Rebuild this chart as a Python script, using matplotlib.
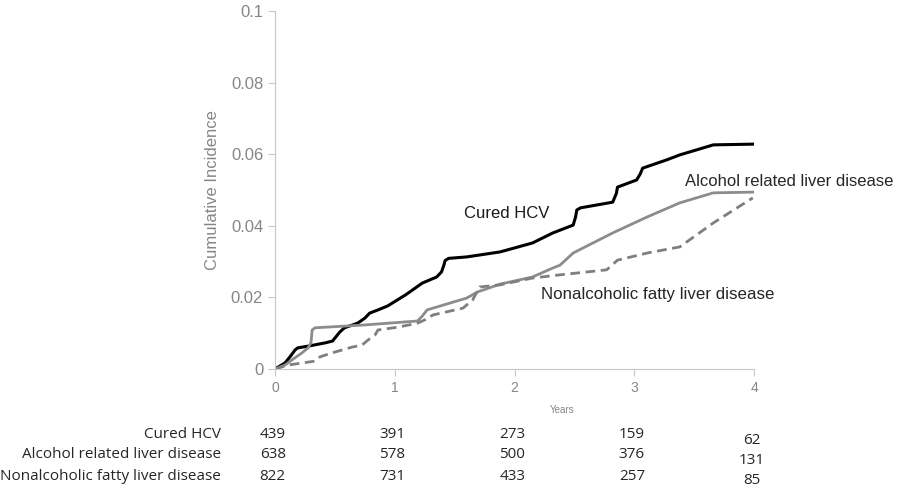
import matplotlib.pyplot as plt
from matplotlib.transforms import blended_transform_factory

plt.rcParams['font.family'] = ['Liberation Sans', 'DejaVu Sans']

# === Data ===
hcv_x = [0, 0.084, 0.125, 0.167, 0.19, 0.28, 0.42, 0.48, 0.54, 0.58, 0.69, 0.75, 0.79,
         0.86, 0.94, 1.09, 1.23, 1.35, 1.39, 1.41, 1.42, 1.45, 1.60, 1.88, 2.15, 2.32,
         2.49, 2.51, 2.52, 2.55, 2.82, 2.85, 2.86, 3.02, 3.05, 3.07, 3.27, 3.38, 3.66, 3.99]
hcv_y = [0, 0.0017, 0.0034, 0.0053, 0.0059, 0.0064, 0.0073, 0.0078, 0.0103, 0.0115,
         0.0128, 0.0142, 0.0156, 0.0165, 0.0176, 0.0207, 0.024, 0.0257, 0.0271, 0.029,
         0.0303, 0.0309, 0.0313, 0.0327, 0.0352, 0.038, 0.0402, 0.0425, 0.0444, 0.045,
         0.0466, 0.049, 0.0508, 0.0528, 0.0545, 0.0561, 0.0584, 0.0598, 0.0626, 0.0628]

ald_x = [0, 0.084, 0.14, 0.225, 0.276, 0.30, 0.31, 0.334, 0.75, 1.19, 1.23, 1.27, 1.60,
         1.69, 1.88, 2.15, 2.32, 2.38, 2.49, 2.82, 3.11, 3.38, 3.66, 3.99]
ald_y = [0, 0.0011, 0.0025, 0.0045, 0.0059, 0.0073, 0.0109, 0.0115, 0.0123, 0.0134,
         0.0148, 0.0165, 0.0198, 0.0215, 0.0237, 0.0257, 0.0282, 0.029, 0.0324, 0.038,
         0.0425, 0.0464, 0.0492, 0.0494]

nafld_x = [0, 0.11, 0.334, 0.376, 0.476, 0.643, 0.727, 0.777, 0.835, 0.86, 1.03, 1.19,
           1.25, 1.32, 1.57, 1.65, 1.71, 1.88, 2.15, 2.38, 2.77, 2.86, 3.11, 3.38, 3.66, 3.99]
nafld_y = [0, 0.0011, 0.0022, 0.0034, 0.0045, 0.0061, 0.0067, 0.0081, 0.0095, 0.0109,
           0.0117, 0.0128, 0.0137, 0.0151, 0.017, 0.0193, 0.0229, 0.0235, 0.0254, 0.0263,
           0.0277, 0.0304, 0.0324, 0.0341, 0.0408, 0.0478]

risk_years = [0, 1, 2, 3, 4]
risk_labels = ["Cured HCV", "Alcohol related liver disease", "Nonalcoholic fatty liver disease"]
risk_hcv = [439, 391, 273, 159, 62]
risk_ald = [638, 578, 500, 376, 131]
risk_nafld = [822, 731, 433, 257, 85]

# === Figure ===
fig = plt.figure(figsize=(9, 4.88), dpi=100)
ax = fig.add_axes([0.3056, 0.2439, 0.5322, 0.7336])

ax.plot(hcv_x, hcv_y, color="black", lw=2.2, solid_joinstyle="round")
ax.plot(ald_x, ald_y, color="#8c8c8c", lw=2.0, solid_joinstyle="round")
ax.plot(nafld_x, nafld_y, color="#7f7f7f", lw=2.0, ls=(0, (3.5, 2)))

ax.set_xlim(0, 4)
ax.set_ylim(0, 0.1)
ax.set_yticks([0, 0.02, 0.04, 0.06, 0.08, 0.1])
ax.set_yticklabels(["0", "0.02", "0.04", "0.06", "0.08", "0.1"])
ax.set_xticks(risk_years)

grey = "#868686"
for s in ["top", "right"]:
    ax.spines[s].set_visible(False)
for s in ["left", "bottom"]:
    ax.spines[s].set_color("#c8c8c8")
ax.tick_params(axis="y", colors="#c8c8c8", labelcolor=grey, labelsize=12, length=5)
ax.tick_params(axis="x", colors="#c8c8c8", labelcolor=grey, labelsize=10, length=5)
ax.set_ylabel("Cumulative Incidence", color=grey, fontsize=12, labelpad=8)

# Years label, sits right of centre like in the original
ax.text(2.4, -0.0115, "Years", color=grey, fontsize=7, ha="center", va="center", clip_on=False)

# === Curve labels ===
ax.text(1.58, 0.0435, "Cured HCV", fontsize=12, color="#1a1a1a", va="center")
ax.text(3.42, 0.0524, "Alcohol related liver disease", fontsize=12, color="#262626", va="center")
ax.text(2.22, 0.0209, "Nonalcoholic fatty liver disease", fontsize=12.2, color="#262626", va="center")

# === Numbers at risk ===
trans = blended_transform_factory(ax.transData, fig.transFigure)
rows_y = [1 - 434 / 488, 1 - 455 / 488, 1 - 476 / 488]
last_y = [1 - 440 / 488, 1 - 461 / 488, 1 - 480 / 488]
for label, counts, y, y4 in zip(risk_labels, [risk_hcv, risk_ald, risk_nafld], rows_y, last_y):
    fig.text(221 / 900, y, label, ha="right", va="center", fontsize=11,
             color="#262626", family=["Open Sans", "DejaVu Sans"])
    for yr, n in zip(risk_years, counts):
        yy = y4 if yr == 4 else y
        ax.text(yr - 0.02, yy, str(n), transform=trans, ha="center", va="center",
                fontsize=11, color="#262626", family=["Open Sans", "DejaVu Sans"],
                clip_on=False)

plt.savefig("out.png", dpi=100)
